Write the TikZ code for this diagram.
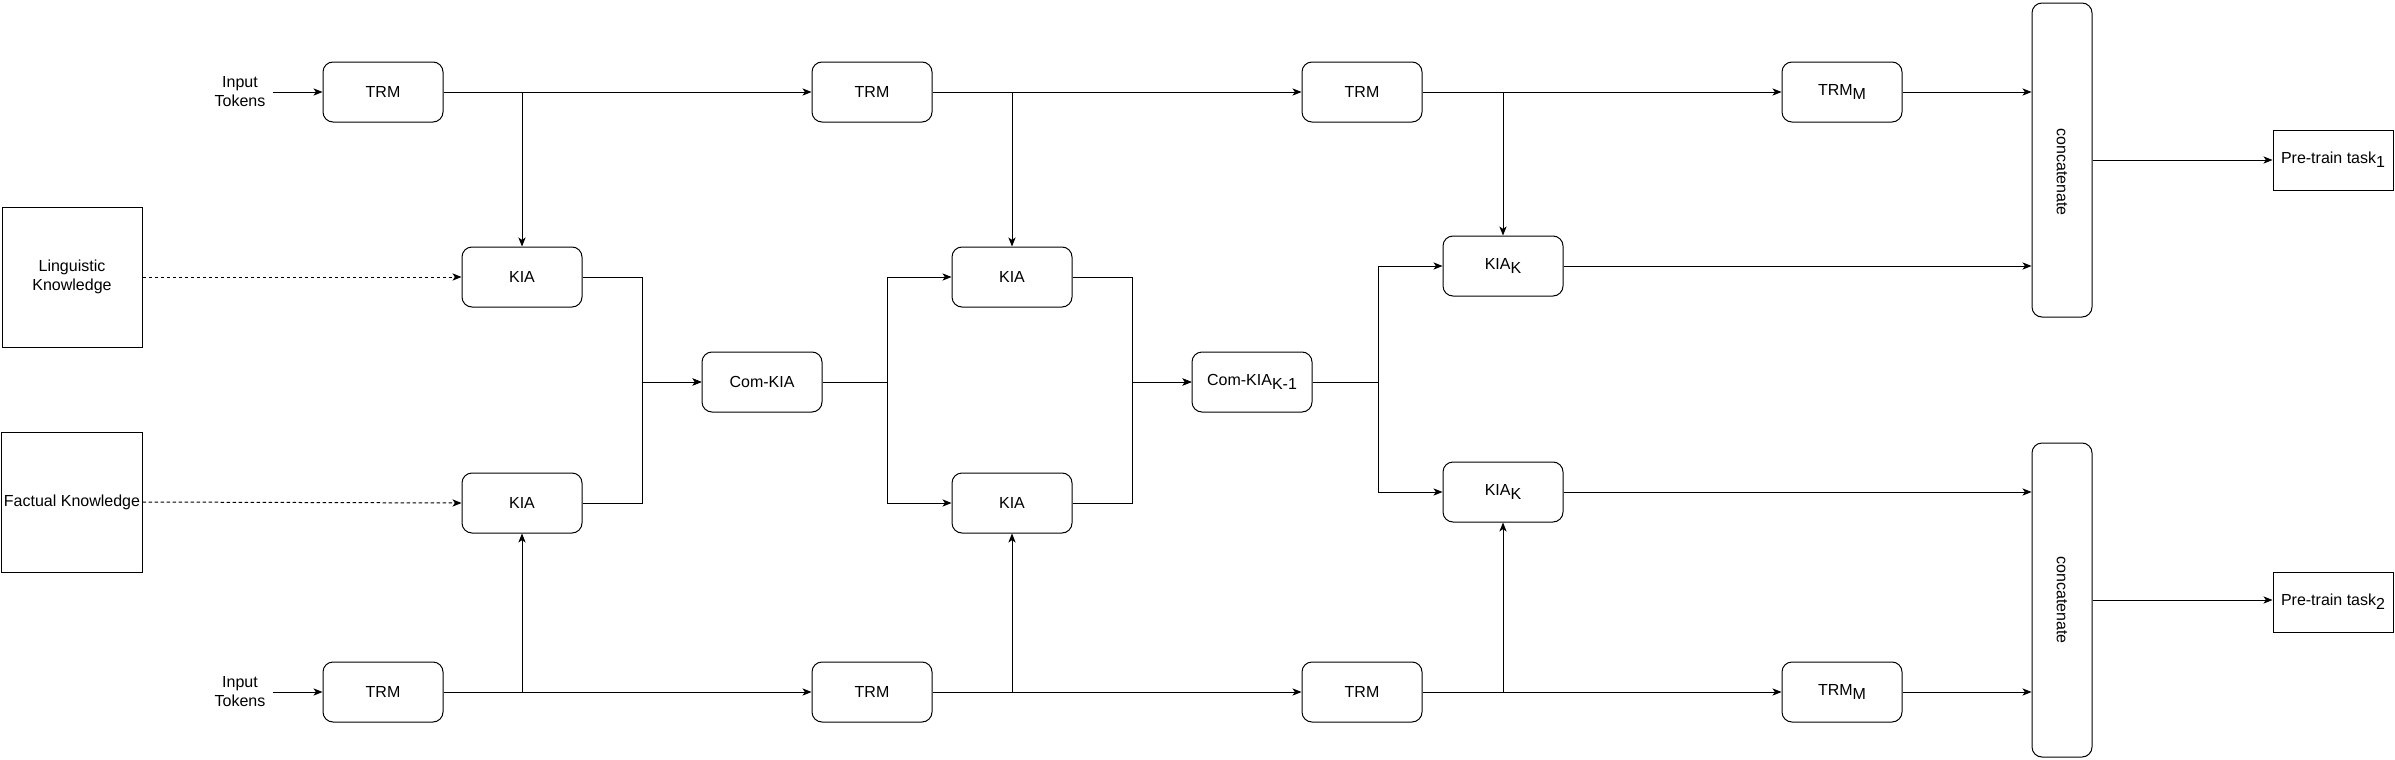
\documentclass[tikz,border=0pt]{standalone}
\usepackage{fontspec}
\setmainfont{Liberation Sans}
\usetikzlibrary{arrows.meta, positioning, calc}

\newcommand{\lowsub}[1]{\raisebox{-2pt}{#1}}

\begin{document}
\begin{tikzpicture}[x=0.5pt, y=-0.5pt, font=\fontsize{8}{9.5}\selectfont, line width=0.5pt,
    >={Stealth[length=4.5pt, width=3.6pt, inset=1.2pt]},
    blk/.style={draw, rounded corners=5pt, minimum width=60pt, minimum height=30pt, inner sep=1pt},
    src/.style={draw, minimum width=70pt, minimum height=70pt, align=center, inner sep=1pt},
    cat/.style={draw, rounded corners=5pt, minimum width=30pt, minimum height=157pt},
    task/.style={draw, minimum width=60pt, minimum height=30pt, inner sep=1pt}]
    \useasboundingbox (0,0) rectangle (2395,760);

    \node[blk] (trmA1) at (383,92) {TRM};
    \node[blk] (trmA2) at (872,92) {TRM};
    \node[blk] (trmA3) at (1362,92) {TRM};
    \node[blk] (trmA4) at (1842,92) {TRM\lowsub{M}};
    \node[align=center, left=25pt of trmA1] (inA) {Input\\Tokens};

    \node[blk] (trmB1) at (383,692) {TRM};
    \node[blk] (trmB2) at (872,692) {TRM};
    \node[blk] (trmB3) at (1362,692) {TRM};
    \node[blk] (trmB4) at (1842,692) {TRM\lowsub{M}};
    \node[align=center, left=25pt of trmB1] (inB) {Input\\Tokens};

    \node[src] (ling) at (72,277) {Linguistic\\Knowledge};
    \node[src] (fact) at (72,502) {Factual Knowledge};

    \node[blk] (kiaA1) at (522,277) {KIA};
    \node[blk] (kiaB1) at (522,503) {KIA};
    \node[blk] (com1) at (762,382) {Com-KIA};
    \node[blk] (kiaA2) at (1012,277) {KIA};
    \node[blk] (kiaB2) at (1012,503) {KIA};
    \node[blk] (com2) at (1252,382) {Com-KIA\lowsub{K-1}};
    \node[blk] (kiaA3) at (1503,266) {KIA\lowsub{K}};
    \node[blk] (kiaB3) at (1503,492) {KIA\lowsub{K}};

    \node[cat] (catA) at (2062,160) {};
    \node[rotate=-90] (catAtxt) at ([yshift=-6pt]catA.center) {concatenate};
    \node[cat] (catB) at (2062,600) {};
    \node[rotate=-90] (catBtxt) at (catB.center) {concatenate};

    \node[task] (taskA) at (2333,160) {Pre-train task\lowsub{1}};
    \node[task] (taskB) at (2333,602) {Pre-train task\lowsub{2}};

    % transformer streams
    \draw[->] (inA.east) -- (trmA1.west);
    \draw[->] (trmA1) -- (trmA2);
    \draw[->] (trmA2) -- (trmA3);
    \draw[->] (trmA3) -- (trmA4);
    \draw[->] (trmA4.east) -- (trmA4.east -| catA.west);
    \draw[->] (inB.east) -- (trmB1.west);
    \draw[->] (trmB1) -- (trmB2);
    \draw[->] (trmB2) -- (trmB3);
    \draw[->] (trmB3) -- (trmB4);
    \draw[->] (trmB4.east) -- (trmB4.east -| catB.west);

    % taps into the KIA blocks
    \draw[->] (kiaA1.north |- trmA1.east) -- (kiaA1.north);
    \draw[->] (kiaA2.north |- trmA2.east) -- (kiaA2.north);
    \draw[->] (kiaA3.north |- trmA3.east) -- (kiaA3.north);
    \draw[->] (kiaB1.south |- trmB1.east) -- (kiaB1.south);
    \draw[->] (kiaB2.south |- trmB2.east) -- (kiaB2.south);
    \draw[->] (kiaB3.south |- trmB3.east) -- (kiaB3.south);

    \draw[->, dash pattern=on 1.8pt off 1.2pt] (ling.east) -- (kiaA1.west);
    \draw[->, dash pattern=on 1.8pt off 1.2pt] (fact.east) -- (kiaB1.west);

    % merge and split
    \draw[->] (kiaA1.east) -- ++(60,0) |- (com1.west);
    \draw[->] (kiaB1.east) -- ++(60,0) |- (com1.west);
    \draw[->] (com1.east) -- ++(65,0) |- (kiaA2.west);
    \draw[->] (com1.east) -- ++(65,0) |- (kiaB2.west);
    \draw[->] (kiaA2.east) -- ++(60,0) |- (com2.west);
    \draw[->] (kiaB2.east) -- ++(60,0) |- (com2.west);
    \draw[->] (com2.east) -- ++(66,0) |- (kiaA3.west);
    \draw[->] (com2.east) -- ++(66,0) |- (kiaB3.west);

    \draw[->] (kiaA3.east) -- (kiaA3.east -| catA.west);
    \draw[->] (kiaB3.east) -- (kiaB3.east -| catB.west);
    \draw[->] (catA.east) -- (taskA.west);
    \draw[->] (catB.east) -- (catB.east -| taskB.west);
\end{tikzpicture}
\end{document}
